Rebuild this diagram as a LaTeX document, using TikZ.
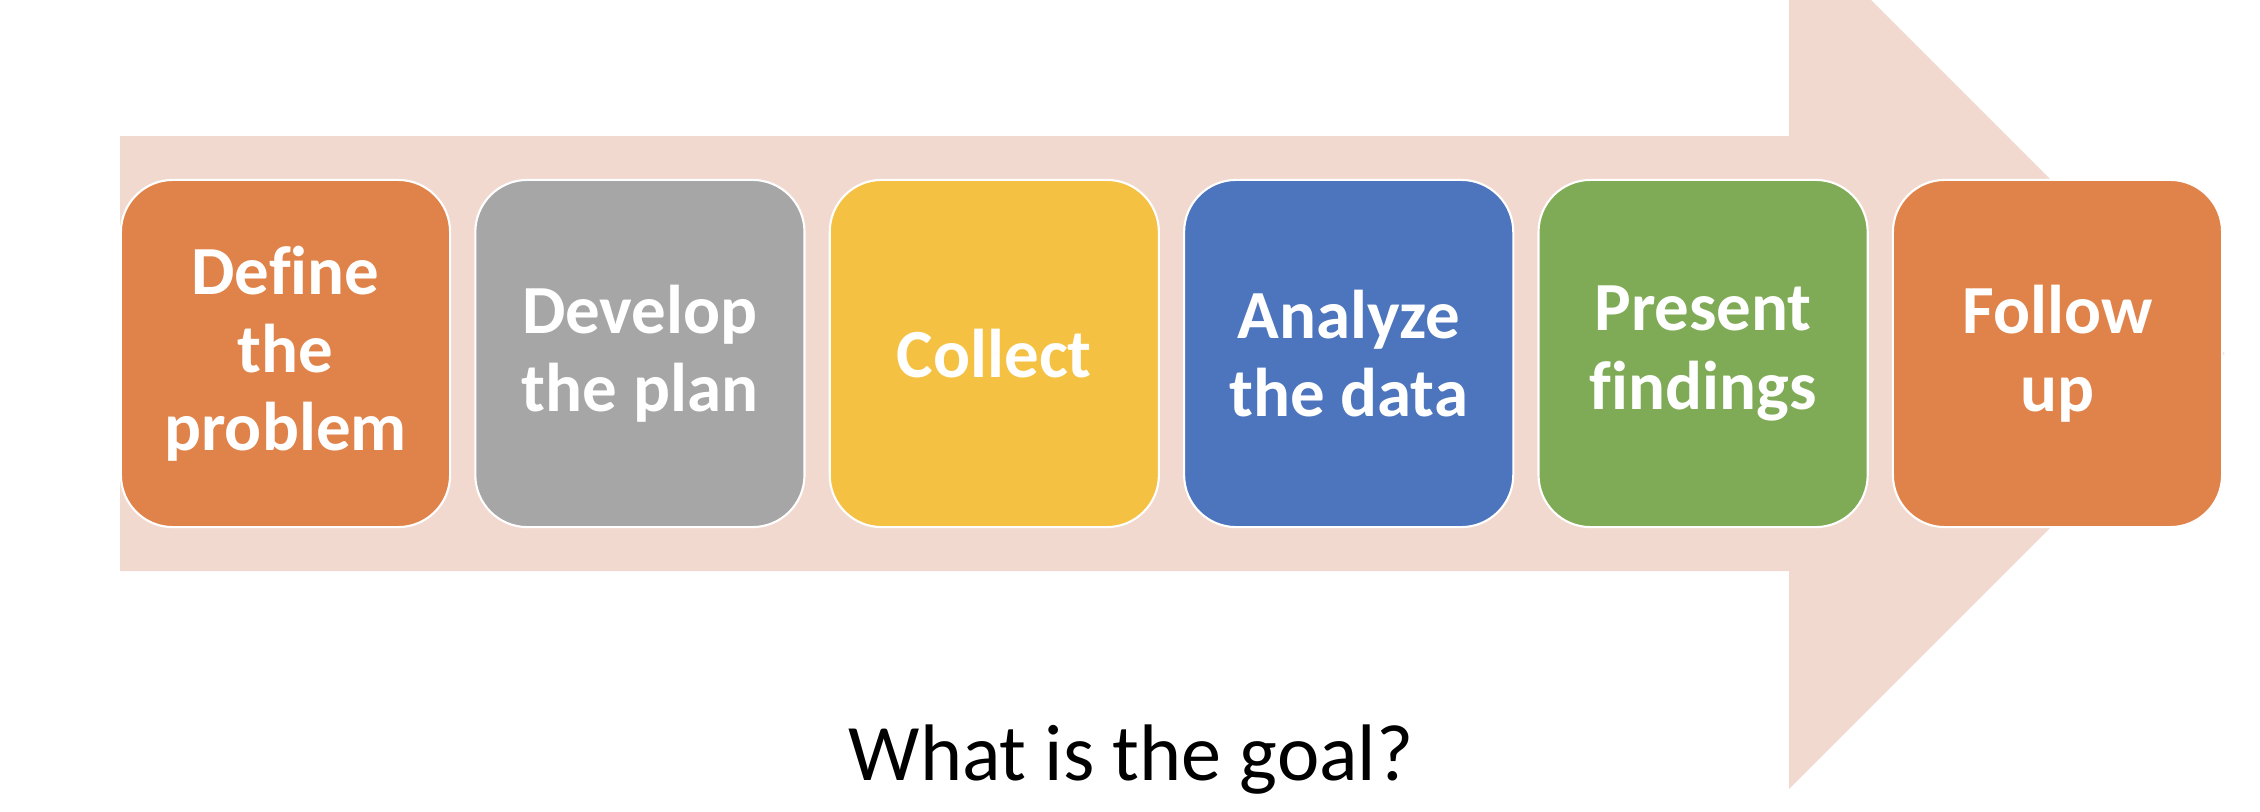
\documentclass[tikz,border=0pt]{standalone}
\usepackage{fontspec}
\setmainfont{Carlito}[Ligatures=NoCommon]
\usepackage{xcolor}
\usepackage{tikz}

\definecolor{arrowpink}{HTML}{F2D9CF}
\definecolor{boxorange}{HTML}{E0834A}
\definecolor{boxgray}{HTML}{A6A6A6}
\definecolor{boxyellow}{HTML}{F5C143}
\definecolor{boxblue}{HTML}{4D75BE}
\definecolor{boxgreen}{HTML}{7FAB57}

\begin{document}
\begin{tikzpicture}[x=0.01cm, y=-0.01cm,
	stepbox/.style={draw=white, line width=0.6pt, rounded corners=0.52cm,
		minimum width=3.29cm, minimum height=3.47cm, inner sep=0pt,
		text=white, align=center, font=\bfseries\fontsize{19.6}{22.2}\selectfont}]
	\useasboundingbox (0,0) rectangle (2260,812);
	\clip (0,0) rectangle (2260,812);

	% big arrow behind the steps
	\fill[arrowpink] (120,136) -- (1789,136) -- (1789,-82) -- (2224.5,353.5)
		-- (1789,789) -- (1789,571) -- (120,571) -- cycle;

	\foreach \n/\col/\txt in {1/boxorange/{Define\\the\\problem},
			2/boxgray/{Develop\\the plan},
			3/boxyellow/{Collect},
			4/boxblue/{Analyze\\the data},
			5/boxgreen/{Present\\findings},
			6/boxorange/{Follow\\up}}
		\node[stepbox, fill=\col] (box\n) at ({285.5+354.4*(\n-1)},353.5) {\txt};

	\node[anchor=base, font=\fontsize{22.8}{27}\selectfont] (goal) at (1131,780) {What is the goal?};
\end{tikzpicture}
\end{document}
